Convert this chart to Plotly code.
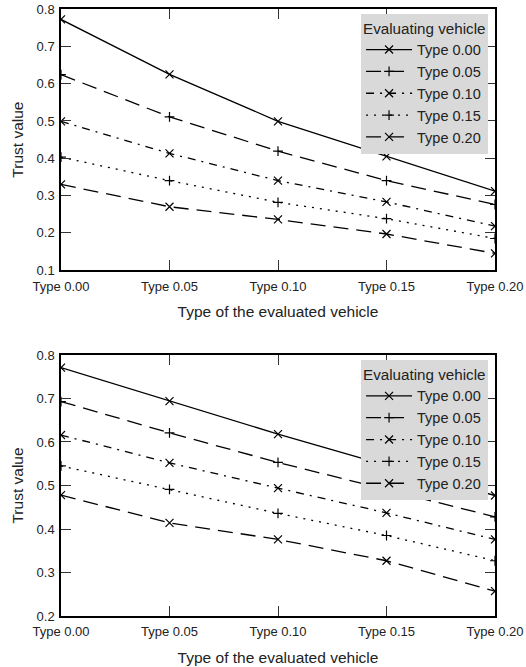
import plotly.graph_objects as go

x_labels = ["Type 0.00", "Type 0.05", "Type 0.10", "Type 0.15", "Type 0.20"]
series_names = ["Type 0.00", "Type 0.05", "Type 0.10", "Type 0.15", "Type 0.20"]

top_t000 = [0.772, 0.625, 0.499, 0.405, 0.312]
top_t005 = [0.624, 0.511, 0.419, 0.340, 0.276]
top_t010 = [0.499, 0.413, 0.340, 0.283, 0.218]
top_t015 = [0.403, 0.340, 0.282, 0.238, 0.185]
top_t020 = [0.330, 0.270, 0.236, 0.197, 0.145]

bot_t000 = [0.771, 0.694, 0.618, 0.546, 0.477]
bot_t005 = [0.693, 0.621, 0.553, 0.490, 0.428]
bot_t010 = [0.616, 0.552, 0.494, 0.437, 0.376]
bot_t015 = [0.545, 0.491, 0.436, 0.385, 0.327]
bot_t020 = [0.478, 0.414, 0.376, 0.327, 0.257]

top_series = [top_t000, top_t005, top_t010, top_t015, top_t020]
bot_series = [bot_t000, bot_t005, bot_t010, bot_t015, bot_t020]

dashes = ["solid", "15px,8px", "8px,6px,2px,6px", "2px,6px", "15px,8px"]
symbols = ["x-thin", "cross-thin", "x-thin", "cross-thin", "x-thin"]
msizes = [8, 7, 8, 7, 8]

fig = go.Figure()
for i, name in enumerate(series_names):
    fig.add_trace(go.Scatter(
        x=x_labels, y=top_series[i], name=name, mode="lines+markers",
        line=dict(color="black", width=1.3, dash=dashes[i]),
        marker=dict(symbol=symbols[i], size=msizes[i], color="black",
                    line=dict(color="black", width=1.2)),
        xaxis="x", yaxis="y", legend="legend"))
for i, name in enumerate(series_names):
    fig.add_trace(go.Scatter(
        x=x_labels, y=bot_series[i], name=name, mode="lines+markers",
        line=dict(color="black", width=1.3, dash=dashes[i]),
        marker=dict(symbol=symbols[i], size=msizes[i], color="black",
                    line=dict(color="black", width=1.2)),
        xaxis="x2", yaxis="y2", legend="legend2"))

font_family = "Liberation Sans, Arial, sans-serif"
xcommon = dict(
    type="category", categoryorder="array", categoryarray=x_labels,
    range=[0, 4], showline=True, linecolor="black", linewidth=1.5,
    mirror="ticks", ticks="inside", ticklen=10, tickcolor="#333",
    tickwidth=1.2, showgrid=False, zeroline=False, automargin=False,
    ticklabelstandoff=3,
    tickfont=dict(size=13, color="#222", family=font_family),
    title=dict(text="Type of the evaluated vehicle",
               font=dict(size=15.5, color="#222", family=font_family),
               standoff=14),
)
ycommon = dict(
    showline=True, linecolor="black", linewidth=1.5,
    mirror="ticks", ticks="inside", ticklen=10, tickcolor="#333",
    tickwidth=1.2, showgrid=False, zeroline=False, dtick=0.1,
    tickformat=".1f", automargin=False, ticklabelstandoff=2,
    tickfont=dict(size=13, color="#222", family=font_family),
    title=dict(text="Trust value",
               font=dict(size=15.5, color="#222", family=font_family),
               standoff=9),
)

legcommon = dict(
    bgcolor="#d9d9d9", xanchor="right", yanchor="top",
    font=dict(size=14.5, color="#222", family=font_family),
    title=dict(text="Evaluating vehicle",
               font=dict(size=15.2, color="#222", family=font_family)),
    itemwidth=46, tracegroupgap=0,
)

fig.update_layout(
    width=526, height=667,
    margin=dict(l=61, r=31, t=9, b=51, autoexpand=False),
    plot_bgcolor="white", paper_bgcolor="white",
    xaxis=dict(domain=[0, 1], anchor="y", **xcommon),
    yaxis=dict(domain=[0.5697, 1.0], anchor="x", range=[0.1, 0.8], **ycommon),
    xaxis2=dict(domain=[0, 1], anchor="y2", **xcommon),
    yaxis2=dict(domain=[0.0, 0.4300], anchor="x2", range=[0.2, 0.8], **ycommon),
    legend=dict(x=0.984, y=0.992, **legcommon),
    legend2=dict(x=0.984, y=0.4215, **legcommon),
    showlegend=True,
)

fig.write_html(
    "out.html",
    config={"displayModeBar": False},
    post_script="document.body.style.margin='0px';document.body.style.overflow='hidden';",
)
